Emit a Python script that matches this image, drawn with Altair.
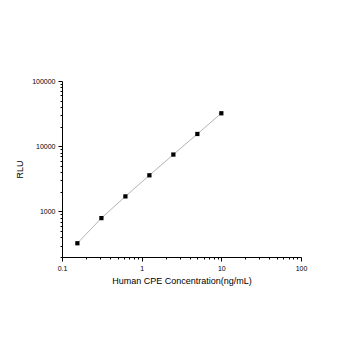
import altair as alt
import pandas as pd

conc = [0.156, 0.3125, 0.625, 1.25, 2.5, 5, 10]
rlu = [325, 790, 1700, 3580, 7450, 15400, 32000]

x_ticks = [a * 10 ** e for e in (-1, 0, 1) for a in range(1, 10)] + [100]
y_ticks = [a * 10 ** e for e in (2, 3, 4) for a in range(1, 10)] + [100000]
y_ticks = [v for v in y_ticks if v >= 200]

df = pd.DataFrame({"conc": conc, "rlu": rlu})

is_major = "abs(log(datum.value)/LN10 - round(log(datum.value)/LN10)) < 0.000001"

x_axis = alt.Axis(
    values=x_ticks, grid=False, format="~g",
    labelExpr=f"({is_major}) ? datum.label : ''",
    tickSize={"condition": {"test": is_major, "value": 4}, "value": 2},
    domainColor="black", tickColor="black", labelColor="black",
    labelFontSize=7, labelFont="Liberation Sans", labelPadding=3,
    titleFontSize=9, titleFont="Liberation Sans", titleFontWeight="normal",
    titlePadding=5, titleColor="black", labelFlush=False,
)
y_axis = alt.Axis(
    values=y_ticks, grid=False, format="d",
    labelExpr=f"({is_major}) ? datum.label : ''",
    tickSize={"condition": {"test": is_major, "value": 4}, "value": 2},
    domainColor="black", tickColor="black", labelColor="black",
    labelFontSize=7, labelFont="Liberation Sans", labelPadding=3,
    titleFontSize=9, titleFont="Liberation Sans", titleFontWeight="normal",
    titlePadding=7, titleColor="black", labelFlush=False,
)

x = alt.X("conc:Q", scale=alt.Scale(type="log", domain=[0.1, 100], nice=False),
          axis=x_axis, title="Human CPE Concentration(ng/mL)")
y = alt.Y("rlu:Q", scale=alt.Scale(type="log", domain=[200, 100000], nice=False),
          axis=y_axis, title="RLU")

line = alt.Chart(df).mark_line(color="#a0a0a0", strokeWidth=0.8).encode(x=x, y=y)
pts = alt.Chart(df).mark_square(color="black", size=18, opacity=1).encode(x=x, y=y)

chart = (line + pts).properties(
    width=239, height=176,
    autosize=alt.AutoSizeParams(type="none"),
    padding={"left": 62, "top": 81, "right": 49, "bottom": 93},
    background="white",
).configure_view(stroke=None)

chart.save("out.html", embed_options={"renderer": "svg", "actions": False})
